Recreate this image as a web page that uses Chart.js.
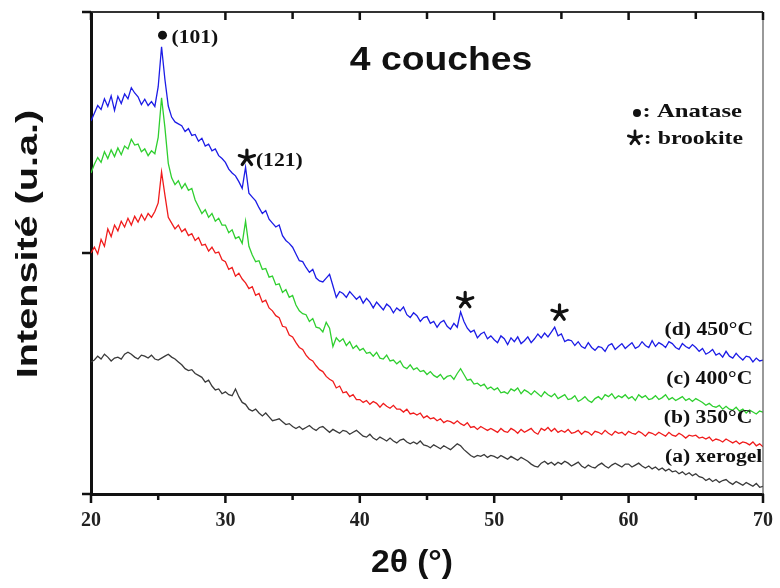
<!DOCTYPE html>
<html>
<head>
<meta charset="utf-8">
<script src="https://cdn.jsdelivr.net/npm/chart.js@4.4.1/dist/chart.umd.min.js"></script>
<style>
  html, body { margin: 0; padding: 0; background: #fff; }
  #graph { display: block; }
</style>
</head>
<body>
<canvas id="graph" width="780" height="588"></canvas>
<script>
// 2theta sampling grid: 20 -> 70 deg, every 0.25 deg (201 points)
const thetaStart = 20;
const thetaStep = 0.25;
const twoTheta = Array.from({ length: 201 }, (_, i) => thetaStart + i * thetaStep);

const xTicks = [20, 30, 40, 50, 60, 70];

// intensities (arbitrary units, vertically offset as in the figure)
const xerogel = [
  27.4, 27.8, 28.6, 28.0, 29.0, 28.4, 27.6, 28.2, 28.4, 28.0, 29.0, 29.4, 29.0, 28.4, 28.0, 28.8, 28.6, 28.2, 28.8, 28.0,
  27.8, 28.2, 28.6, 29.0, 28.4, 28.0, 27.4, 26.8, 26.0, 25.6, 25.8, 25.0, 24.6, 24.2, 23.2, 23.6, 22.4, 21.6, 21.8, 20.8,
  21.2, 20.6, 20.4, 21.8, 20.2, 19.0, 18.6, 17.6, 17.2, 17.6, 16.8, 16.2, 16.8, 16.0, 15.2, 15.4, 15.6, 15.0, 14.4, 14.6,
  14.0, 13.6, 14.0, 13.4, 13.8, 14.2, 13.6, 13.2, 13.8, 14.0, 13.4, 12.8, 13.4, 13.0, 12.6, 13.2, 13.0, 12.4, 12.8, 13.2,
  12.6, 12.0, 11.8, 12.4, 11.6, 11.2, 11.8, 11.4, 11.0, 11.6, 11.0, 10.6, 11.2, 11.4, 10.8, 10.4, 10.8, 10.4, 11.0, 10.2,
  10.0, 9.6, 10.2, 9.8, 9.4, 10.0, 9.6, 9.2, 9.8, 10.4, 10.0, 9.2, 8.6, 8.0, 7.6, 8.0, 7.8, 8.2, 7.6, 8.0,
  7.8, 7.4, 8.0, 7.6, 7.2, 7.8, 7.4, 7.0, 7.6, 7.2, 6.8, 6.2, 5.8, 5.6, 6.4, 6.8, 6.2, 6.6, 6.0, 6.6,
  6.2, 6.8, 6.4, 5.8, 6.2, 6.6, 5.8, 5.4, 6.0, 5.6, 5.4, 6.0, 6.4, 5.8, 5.4, 6.0, 6.4, 6.0, 5.6, 6.2,
  6.2, 5.6, 6.0, 6.4, 5.8, 5.4, 5.8, 5.2, 5.6, 5.0, 5.4, 4.8, 5.2, 4.6, 4.8, 4.2, 4.6, 4.0, 4.4, 3.8,
  4.2, 3.6, 3.4, 2.8, 3.2, 2.6, 3.0, 2.4, 2.8, 3.0, 2.4, 2.0, 2.6, 2.2, 1.8, 2.4, 2.0, 1.6, 2.2, 1.4,
  1.6
];
const t350 = [
  50.0, 51.2, 49.8, 52.8, 51.4, 55.0, 53.4, 55.8, 54.6, 56.6, 55.4, 57.2, 55.8, 57.6, 56.4, 58.0, 56.8, 58.2, 57.4, 58.6,
  60.4, 66.8, 62.0, 57.4, 56.2, 55.0, 55.8, 54.4, 55.0, 53.6, 54.0, 52.6, 53.2, 51.6, 51.8, 50.4, 51.2, 50.0, 50.2, 48.6,
  48.2, 46.6, 47.0, 45.2, 45.8, 44.6, 43.8, 42.6, 43.0, 41.2, 41.6, 39.8, 40.2, 38.6, 38.0, 37.0, 36.6, 34.8, 34.6, 33.0,
  32.6, 31.4, 30.4, 30.0, 28.8, 28.0, 27.6, 26.6, 25.8, 25.4, 24.4, 23.8, 23.4, 22.0, 22.4, 21.0, 21.2, 20.2, 20.6, 19.6,
  19.6, 19.0, 19.4, 18.6, 19.2, 18.8, 18.0, 18.8, 18.2, 17.8, 18.4, 17.6, 17.6, 17.0, 17.6, 16.6, 16.8, 16.4, 16.8, 15.8,
  16.2, 15.6, 15.8, 15.2, 15.6, 14.8, 15.2, 15.0, 14.6, 15.2, 14.6, 14.2, 14.8, 13.8, 14.0, 13.4, 14.0, 13.6, 13.2, 13.6,
  13.2, 12.8, 13.6, 13.0, 12.8, 13.6, 13.2, 12.6, 13.4, 12.8, 13.2, 13.6, 12.8, 12.4, 13.6, 13.2, 13.8, 13.0, 13.6, 12.8,
  13.2, 12.8, 13.4, 12.6, 12.8, 13.2, 12.4, 13.0, 12.8, 12.2, 13.0, 12.8, 12.4, 13.2, 12.6, 12.2, 13.0, 12.6, 12.8, 12.2,
  13.0, 12.6, 12.4, 13.0, 12.6, 12.0, 12.8, 12.6, 12.2, 12.8, 12.4, 12.0, 12.8, 12.2, 12.0, 12.6, 12.2, 11.6, 12.2, 12.0,
  12.2, 11.6, 11.8, 11.4, 11.8, 11.0, 11.4, 11.2, 10.8, 11.4, 11.0, 10.6, 11.0, 10.4, 10.8, 10.6, 10.2, 10.8, 10.0, 10.4,
  9.8
];
const t400 = [
  66.6, 68.4, 69.8, 68.8, 71.0, 69.6, 71.4, 70.0, 71.8, 70.4, 72.2, 71.6, 73.6, 72.4, 72.6, 71.0, 71.6, 70.2, 71.2, 70.6,
  74.0, 82.2, 76.0, 68.6, 65.6, 64.2, 65.0, 63.4, 64.4, 63.0, 63.4, 61.0, 59.6, 58.2, 59.0, 57.4, 58.2, 56.6, 57.2, 55.8,
  55.8, 54.2, 54.8, 53.0, 53.4, 52.0, 56.6, 51.4, 49.6, 48.2, 48.4, 46.6, 46.8, 45.0, 45.2, 43.4, 43.6, 41.8, 42.4, 40.8,
  41.2, 39.2, 38.0, 37.4, 37.2, 35.8, 36.4, 34.6, 34.4, 33.6, 35.6, 34.4, 30.6, 32.4, 31.6, 32.2, 30.8, 31.6, 30.2, 30.8,
  29.8, 30.2, 29.2, 29.4, 28.6, 29.4, 28.2, 28.0, 28.8, 27.6, 27.8, 27.0, 27.6, 26.4, 26.0, 26.8, 25.8, 26.2, 25.4, 25.6,
  24.8, 25.4, 24.6, 24.2, 24.8, 23.8, 24.4, 24.6, 23.8, 25.0, 26.0, 24.8, 23.6, 23.8, 22.8, 23.0, 22.4, 22.8, 21.8, 22.2,
  21.6, 22.0, 21.0, 21.2, 20.8, 21.8, 21.4, 22.0, 20.8, 21.6, 21.2, 20.6, 21.4, 20.8, 20.2, 21.2, 20.6, 20.2, 20.8, 19.8,
  20.2, 20.6, 19.6, 19.8, 20.4, 19.2, 19.6, 20.2, 19.4, 19.0, 19.8, 20.2, 19.6, 20.6, 20.2, 20.8, 19.8, 20.4, 20.0, 20.6,
  19.8, 20.2, 19.4, 20.6, 20.0, 20.4, 19.6, 19.8, 20.4, 19.6, 20.0, 20.6, 19.6, 20.0, 19.4, 19.8, 20.2, 19.4, 19.8, 19.2,
  19.8, 19.4, 19.0, 18.4, 18.8, 18.2, 18.0, 18.4, 17.6, 18.2, 17.6, 17.4, 18.0, 17.2, 17.6, 16.8, 17.4, 17.0, 16.6, 17.2,
  17.0
];
const t450 = [
  77.4, 79.0, 80.6, 79.8, 82.0, 80.4, 82.6, 79.6, 82.5, 81.0, 83.0, 82.0, 84.3, 83.2, 82.4, 80.8, 81.9, 80.6, 81.4, 80.4,
  84.5, 92.8, 86.0, 80.5, 78.2, 77.2, 76.8, 76.4, 75.2, 75.8, 74.4, 74.6, 73.2, 73.8, 72.2, 72.6, 71.2, 71.6, 70.2, 69.6,
  68.8, 67.4, 66.6, 66.0, 64.8, 63.4, 67.8, 62.4, 61.6, 60.8, 59.4, 58.2, 58.8, 57.0, 56.2, 55.4, 55.8, 53.6, 52.6, 52.0,
  51.2, 49.8, 48.4, 48.2, 47.0, 46.0, 46.6, 44.8, 44.2, 44.0, 44.8, 45.6, 43.2, 40.8, 42.0, 41.6, 40.8, 42.0, 41.2, 40.4,
  41.0, 39.6, 40.6, 39.8, 38.6, 39.8, 39.0, 38.2, 39.4, 38.8, 37.6, 38.6, 38.0, 38.8, 37.2, 36.6, 37.6, 37.0, 35.8, 36.6,
  36.8, 35.4, 35.8, 34.6, 35.6, 36.0, 34.8, 34.2, 35.4, 34.6, 37.8, 35.8, 34.4, 33.6, 34.0, 32.4, 33.2, 33.6, 32.2, 32.8,
  32.0, 31.4, 32.8, 32.2, 31.0, 32.4, 31.6, 32.6, 31.2, 31.8, 32.6, 31.4, 32.2, 33.2, 32.4, 33.4, 32.6, 33.6, 34.6, 32.8,
  33.2, 31.6, 32.0, 31.8, 30.8, 31.6, 30.6, 30.2, 31.4, 30.4, 29.8, 30.6, 30.4, 29.6, 30.8, 31.2, 30.0, 30.6, 31.2, 30.2,
  30.8, 31.4, 30.2, 30.6, 31.6, 30.8, 30.4, 31.8, 30.6, 31.4, 31.0, 30.4, 31.6, 31.2, 30.4, 30.0, 31.2, 30.6, 30.2, 31.0,
  30.4, 29.6, 30.2, 29.0, 29.4, 30.0, 28.8, 29.2, 28.4, 29.6, 28.6, 28.2, 29.2, 28.4, 27.8, 28.6, 28.4, 27.4, 28.2, 27.6,
  27.8
];

const seriesNames = ['(a) xerogel', '(b) 350°C', '(c) 400°C', '(d) 450°C'];
const seriesColors = ['#3a3a3a', '#f01c1c', '#2fcf2f', '#1c1ce6'];

// peak markers: [2theta, intensity, kind, hkl]
const peakMarks = [
  [25.32, 95.2, 'dot', '(101)'],
  [31.6, 69.7, 'star', '(121)'],
  [47.84, 40.2, 'star', ''],
  [54.86, 37.6, 'star', '']
];
// curve labels: [2theta of right end, intensity]
const labelPos = [[69.95, 7.6], [69.2, 15.8], [69.2, 23.7], [69.26, 34.0]];

function stretchText(ctx, s, x, y, font, align, sx) {
  ctx.save();
  ctx.font = font;
  ctx.textAlign = align;
  ctx.textBaseline = 'middle';
  ctx.translate(x, y);
  ctx.scale(sx, 1);
  ctx.fillText(s, 0, 0);
  ctx.restore();
}

function drawStar(ctx, cx, cy, r, w) {
  ctx.save();
  ctx.lineWidth = w;
  ctx.lineCap = 'round';
  ctx.beginPath();
  for (let k = 0; k < 5; k++) {
    const a = -Math.PI / 2 + k * 2 * Math.PI / 5;
    ctx.moveTo(cx, cy);
    ctx.lineTo(cx + r * Math.cos(a), cy + r * Math.sin(a));
  }
  ctx.stroke();
  ctx.restore();
}

const decorations = {
  id: 'decorations',
  afterDraw(chart) {
    const { ctx, chartArea: a } = chart;
    const xs = chart.scales.x, ys = chart.scales.y;
    ctx.save();
    ctx.fillStyle = '#111';

    // frame top/right
    ctx.lineWidth = 2;
    ctx.strokeStyle = '#333';
    ctx.beginPath();
    ctx.moveTo(a.left, a.top); ctx.lineTo(a.right, a.top);
    ctx.stroke();
    ctx.lineWidth = 1.2;
    ctx.strokeStyle = '#555';
    ctx.beginPath();
    ctx.moveTo(a.right, a.top); ctx.lineTo(a.right, a.bottom);
    ctx.stroke();

    // ticks
    ctx.strokeStyle = '#111';
    ctx.lineWidth = 2.5;
    for (let v = 20; v <= 70; v += 5) {
      const px = xs.getPixelForValue(v);
      const major = v % 10 === 0;
      ctx.beginPath();
      ctx.moveTo(px, a.bottom); ctx.lineTo(px, a.bottom + (major ? 9 : 6));
      ctx.moveTo(px, a.top); ctx.lineTo(px, a.top + (major ? 8 : 7));
      ctx.stroke();
    }
    [0, 50, 100].forEach(v => {
      const py = ys.getPixelForValue(v);
      ctx.beginPath();
      ctx.moveTo(a.left - 9, py); ctx.lineTo(a.left, py);
      ctx.stroke();
    });

    // peak markers
    const serif = 'bold 18px "Liberation Serif", "Times New Roman", serif';
    peakMarks.forEach(([t, v, kind, hkl]) => {
      const px = xs.getPixelForValue(t), py = ys.getPixelForValue(v);
      if (kind === 'dot') {
        ctx.beginPath();
        ctx.arc(px, py, 4.5, 0, Math.PI * 2);
        ctx.fill();
      } else {
        drawStar(ctx, px, py, 8, 3.2);
      }
      if (hkl) stretchText(ctx, hkl, px + 9, py + 3, serif, 'left', 1.2);
    });

    // curve labels
    seriesNames.forEach((n, i) => {
      const [t, v] = labelPos[i];
      stretchText(ctx, n, xs.getPixelForValue(t), ys.getPixelForValue(v), serif, 'right', 1.2);
    });

    // phase legend
    ctx.beginPath();
    ctx.arc(a.right - 126, a.top + 101, 4, 0, Math.PI * 2);
    ctx.fill();
    stretchText(ctx, ': Anatase', a.right - 21, a.top + 100, 'bold 19px "Liberation Serif", serif', 'right', 1.3);
    drawStar(ctx, a.right - 128, a.top + 126, 7, 2.8);
    stretchText(ctx, ': brookite', a.right - 20, a.top + 127, 'bold 19px "Liberation Serif", serif', 'right', 1.25);

    // title inside the frame
    stretchText(ctx, '4 couches', 441, 61, 'bold 33px "Liberation Sans", Arial, sans-serif', 'center', 1.13);

    // axis titles
    stretchText(ctx, '2θ (°)', 412, 563, 'bold 32px "Liberation Sans", Arial, sans-serif', 'center', 1.05);
    ctx.save();
    ctx.translate(29, 244);
    ctx.rotate(-Math.PI / 2);
    stretchText(ctx, 'Intensité (u.a.)', 0, 0, 'bold 30px "Liberation Sans", Arial, sans-serif', 'center', 1.32);
    ctx.restore();

    ctx.restore();
  }
};

const datasets = [xerogel, t350, t400, t450].map((d, i) => ({
  label: seriesNames[i],
  data: d,
  borderColor: seriesColors[i],
  borderWidth: 1.3,
  pointRadius: 0,
  fill: false,
  tension: 0
}));

new Chart(document.getElementById('graph'), {
  type: 'line',
  data: { labels: twoTheta, datasets },
  plugins: [decorations],
  options: {
    responsive: false,
    animation: false,
    devicePixelRatio: 1,
    layout: { padding: { left: 91, right: 12, top: 12, bottom: 0 } },
    plugins: { legend: { display: false }, tooltip: { enabled: false } },
    scales: {
      x: {
        type: 'linear',
        min: 20,
        max: 70,
        afterFit: s => { s.height = 94; },
        afterBuildTicks: s => { s.ticks = xTicks.map(v => ({ value: v })); },
        grid: { display: false },
        border: { display: true, color: '#111', width: 3 },
        ticks: {
          padding: 7,
          color: '#222',
          font: { family: '"Liberation Serif", "Times New Roman", serif', size: 20, weight: 'bold' }
        }
      },
      y: {
        min: 0,
        max: 100,
        afterFit: s => { s.width = 0; },
        grid: { display: false },
        border: { display: true, color: '#111', width: 3 },
        ticks: { display: false }
      }
    }
  }
});
</script>
</body>
</html>
